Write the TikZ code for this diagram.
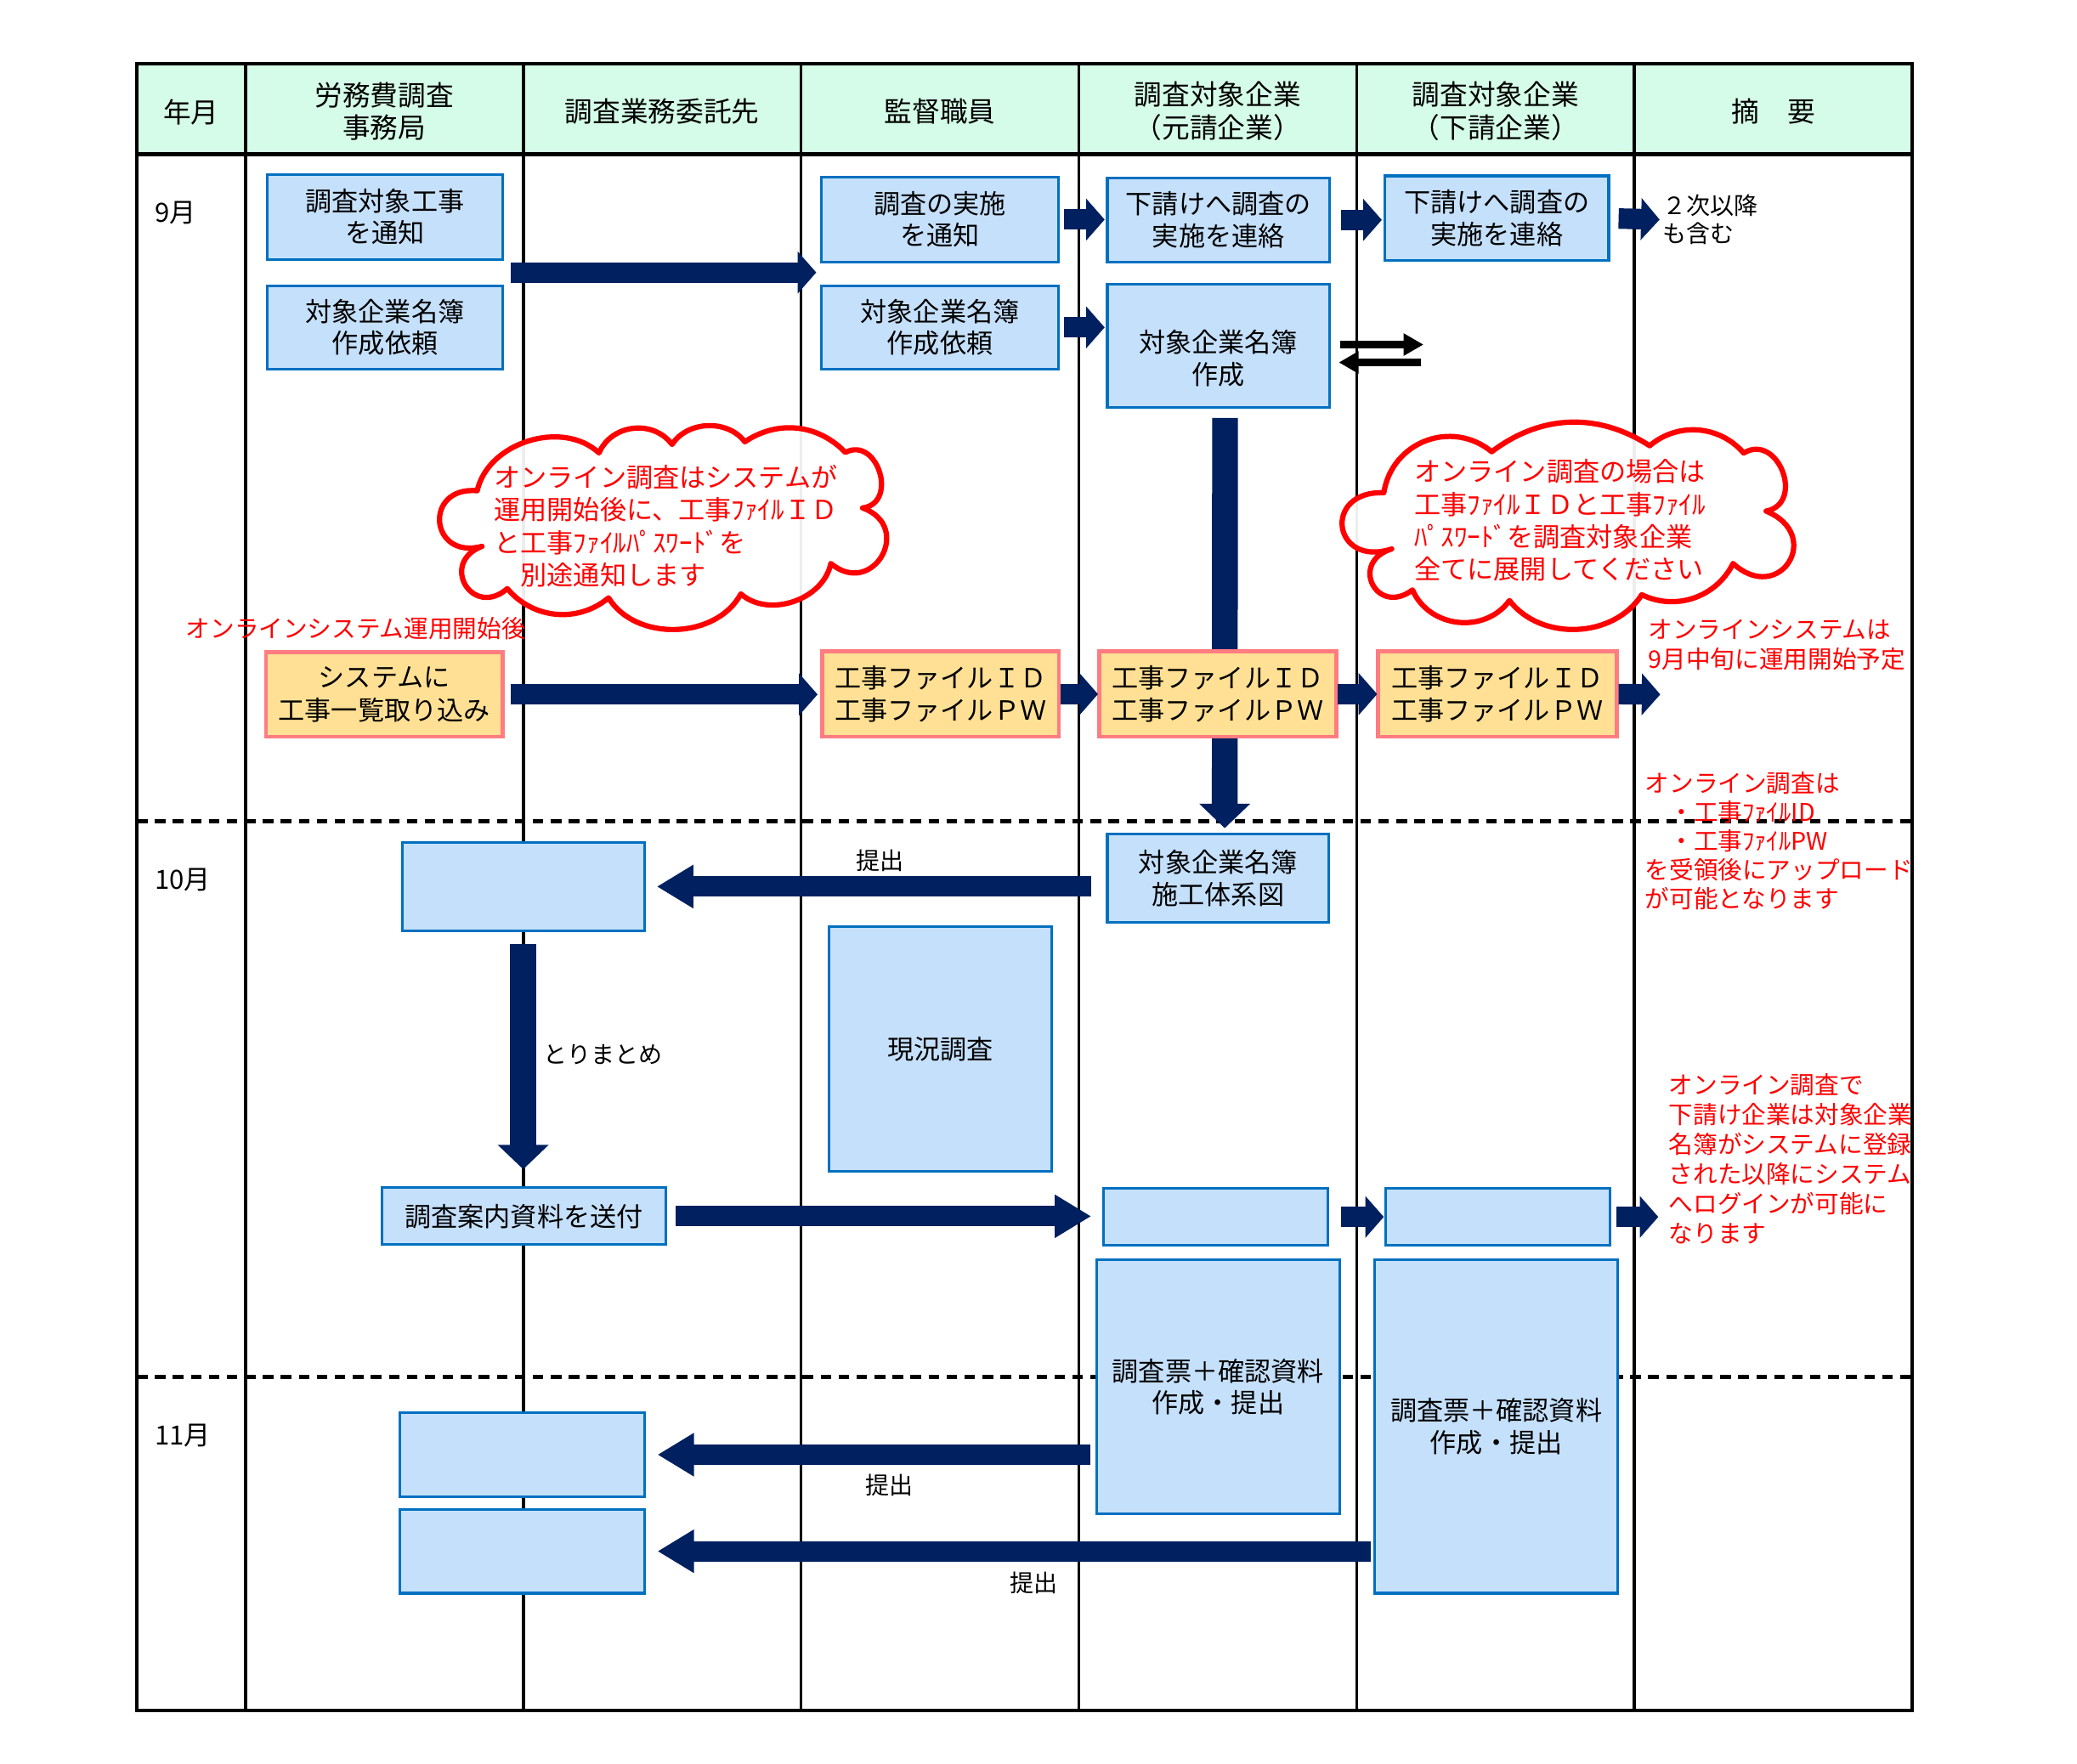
\documentclass[tikz,border=0pt]{standalone}
\usepackage{fontspec}
\setmainfont{Noto Sans CJK JP}
\usetikzlibrary{arrows.meta,calc}
\definecolor{mint}{RGB}{213,252,232}
\definecolor{bfill}{RGB}{197,224,251}
\definecolor{bline}{RGB}{0,112,192}
\definecolor{yfill}{RGB}{255,224,148}
\definecolor{yline}{RGB}{255,124,128}
\definecolor{navy}{RGB}{0,32,96}
\definecolor{nred}{RGB}{255,0,0}
\newcommand\fsz[2]{\fontsize{#1}{#2}\selectfont}
\newcommand\bx[7][]{\node[#1, minimum width={(#5-#3)*0.5pt}, minimum height={(#6-#4)*0.5pt}] (#2) at ({(#3+#5)/2},{(#4+#6)/2}) {#7};}
\begin{document}
\begin{tikzpicture}[x=0.5pt,y=-0.5pt,
  every node/.style={inner sep=0pt, outer sep=0pt},
  bluebox/.style={draw=bline, fill=bfill, line width=1pt, align=center, font=\fsz{10}{12}},
  yelbox/.style={draw=yline, fill=yfill, line width=1.5pt, align=center, font=\fsz{10}{12.3}},
  hdr/.style={align=center, font=\fsz{10.5}{12.25}},
  note/.style={text=nred, align=left, anchor=west, font=\fsz{9.2}{11.25}},
  lbl/.style={font=\fsz{9}{10.8}},
  cltext/.style={text=nred, align=left, anchor=west, font=\fsz{10}{12.3}},
  harr/.style={draw=navy, line width=7.75pt, -{Triangle[length=7pt,width=15.5pt]}},
  larr/.style={draw=navy, line width=7.75pt, -{Triangle[length=13.8pt,width=15.5pt]}},
  varr/.style={draw=navy, line width=9.75pt, -{Triangle[length=9.25pt,width=18.75pt]}},
  karr/.style={draw=black, line width=2.7pt, -{Triangle[length=7.5pt,width=8pt]}},
  colline/.style={line width=1.2pt},
  monthsep/.style={line width=1.6pt, dash pattern=on 4pt off 2.8pt},
  cloudsty/.style={draw=nred, line width=2pt, fill=white, fill opacity=0.93, line join=round},
]
% canvas
\fill[white] (0,0) rectangle (1570,1333.5);
\useasboundingbox (0,0) rectangle (1570,1333.5);
% table
\fill[mint] (103.5,48) rectangle (1445.5,116.7);
\foreach \x in {185.5,395.5,605.5,815.5,1025.5,1235.5} \draw[colline] (\x,48) -- (\x,1293);
\draw[line width=1.6pt] (103.5,116.7) -- (1445.5,116.7);
\draw[monthsep] (103.5,621) -- (1445.5,621);
\draw[monthsep] (103.5,1041) -- (1445.5,1041);
\draw[line width=1.4pt] (103.5,48) rectangle (1445.5,1293);
% headers
\node[hdr] (h1) at (144.5,84.5) {年月};
\node[hdr] (h2) at (290.5,84) {労務費調査\\事務局};
\node[hdr] (h3) at (500.5,84.5) {調査業務委託先};
\node[hdr] (h4) at (710.5,84.5) {監督職員};
\node[hdr] (h5) at (920.5,84) {調査対象企業\\（元請企業）};
\node[hdr] (h6) at (1130.5,84) {調査対象企業\\（下請企業）};
\node[hdr] (h7) at (1340.5,84.5) {摘　要};
% months
\node[anchor=west, font=\fsz{10}{12}] (m9) at (117,161) {9月};
\node[anchor=west, font=\fsz{10}{12}] (m10) at (117,665.5) {10月};
\node[anchor=west, font=\fsz{10}{12}] (m11) at (117,1085) {11月};
% clouds
\path[cloudsty] (360.7,371) to[bend left=60] (452.8,342.4)
  to[bend left=60, looseness=1.1] (508,336) to[bend left=55] (563,334)
  to[bend left=40] (639,342) to[bend left=100, looseness=1.6] (652,384)
  to[bend left=100, looseness=2.2] (628,426) to[bend left=60] (560,449)
  to[bend left=60] (460,452) to[bend left=45] (383.5,445)
  to[bend left=100, looseness=2.4] (364.4,413)
  to[bend left=100, looseness=2.5] (360.7,371) -- cycle;
\path[cloudsty] (1046,372.5) to[bend left=60, looseness=1.15] (1127.6,341.5)
  to[bend left=35] (1247,337) to[bend left=45] (1318,342.5)
  to[bend left=100, looseness=1.65] (1335,386.4)
  to[bend left=100, looseness=2.6] (1310,426) to[bend left=45] (1241,449.6)
  to[bend left=55] (1141,454) to[bend left=60, looseness=1.1] (1067.7,446)
  to[bend left=100, looseness=2.5] (1052,415)
  to[bend left=100, looseness=2.8] (1046,372.5) -- cycle;
\node[cltext] (cl1t) at (373.6,397.7) {オンライン調査はシステムが\\運用開始後に、工事ﾌｧｲﾙＩＤ\\と工事ﾌｧｲﾙﾊﾟｽﾜｰﾄﾞを\\　別途通知します};
\node[cltext] (cl2t) at (1069.2,393.4) {オンライン調査の場合は\\工事ﾌｧｲﾙＩＤと工事ﾌｧｲﾙ\\ﾊﾟｽﾜｰﾄﾞを調査対象企業\\全てに展開してください};
% September boxes
\bx[bluebox]{B1}{202}{132}{380}{196}{調査対象工事\\を通知}
\bx[bluebox]{B2}{202}{216}{380}{279}{対象企業名簿\\作成依頼}
\bx[bluebox]{B3}{621}{134}{800}{198}{調査の実施\\を通知}
\bx[bluebox]{B4}{621}{216}{800}{279}{対象企業名簿\\作成依頼}
\bx[bluebox]{B5}{837}{134.5}{1005}{198}{下請けへ調査の\\実施を連絡}
\bx[bluebox]{B6}{837}{215}{1005}{308}{}
\node[align=center, font=\fsz{10}{12}] (B6t) at ([yshift=-4.75pt]B6.center) {対象企業名簿\\作成};
\bx[bluebox]{B7}{1047}{133}{1216}{197}{下請けへ調査の\\実施を連絡}
% October box feeding from B6
\bx[bluebox]{C2}{837}{630.5}{1004.5}{697.5}{対象企業名簿\\施工体系図}
\draw[varr, shorten <=4pt, shorten >=2.2pt] ([xshift=2.5pt]B6.south) -- ([xshift=2.5pt]C2.north);
% yellow row
\bx[yelbox]{Y1}{201}{493}{380}{557}{システムに\\工事一覧取り込み}
\bx[yelbox]{Y2}{621.5}{492.5}{800.5}{557}{工事ファイルＩＤ\\工事ファイルＰＷ}
\bx[yelbox]{Y3}{831}{492.5}{1010}{557}{工事ファイルＩＤ\\工事ファイルＰＷ}
\bx[yelbox]{Y4}{1041.5}{492.5}{1222}{557}{工事ファイルＩＤ\\工事ファイルＰＷ}
% October / November boxes
\bx[bluebox]{C1}{304}{637}{487}{703.5}{}
\bx[bluebox]{G}{626.5}{700.5}{795}{885.5}{現況調査}
\bx[bluebox]{S}{288.5}{898}{503.5}{941}{調査案内資料を送付}
\bx[bluebox]{D1}{834}{898.5}{1004}{941.5}{}
\bx[bluebox]{D2}{1047.5}{898.5}{1217}{941.5}{}
\bx[bluebox]{E1}{829}{952.5}{1012.5}{1144.5}{調査票＋確認資料\\作成・提出}
\bx[bluebox]{E2}{1039}{952.5}{1223}{1204.5}{調査票＋確認資料\\作成・提出}
\bx[bluebox]{F1}{302.5}{1068}{487}{1131.5}{}
\bx[bluebox]{F2}{302.5}{1141}{487}{1204.5}{}
% free ends
\coordinate (q1) at (1254.5,166);
\coordinate (q2) at (1255,525);
\coordinate (q3) at (1253.5,920);
\coordinate (k1) at (1076,260.5);
\coordinate (k2) at (1074,274);
% September arrows
\coordinate (a1s) at ($(B1.south east)!0.5!(B2.north east)$);
\draw[harr, shorten <=3pt, shorten >=2pt] (a1s) -- (a1s -| B3.west);
\draw[harr, shorten <=2pt, shorten >=1pt] (B3.east) -- (B3.east -| B5.west);
\draw[harr, shorten <=2pt, shorten >=1pt] (B4.east) -- (B4.east -| B6.west);
\draw[harr, shorten <=4.25pt, shorten >=1.25pt] (B5.east) -- (B5.east -| B7.west);
\draw[harr, shorten <=3.75pt] (B7.east) -- (q1);
\draw[karr, shorten <=4pt] (B6.east |- k1) -- (k1);
\draw[karr, shorten >=3.5pt] (k2) -- (B6.east |- k2);
\draw[harr, shorten <=3pt, shorten >=1.75pt] (Y1.east) -- (Y1.east -| Y2.west);
\draw[harr, shorten <=0.5pt, shorten >=0.5pt] (Y2.east) -- (Y2.east -| Y3.west);
\draw[harr, shorten <=0.5pt, shorten >=0.25pt] (Y3.east) -- (Y3.east -| Y4.west);
\draw[harr, shorten <=0.75pt] (Y4.east) -- (q2);
% October arrows
\draw[larr, shorten <=6pt, shorten >=4.75pt] (C2.west |- C1.east) -- (C1.east);
\draw[varr, shorten <=5pt, shorten >=7pt] (C1.south) -- (C1.south |- S.north);
\draw[larr, shorten <=3.75pt, shorten >=4.6pt] (S.east) -- (S.east -| D1.west);
\draw[harr, shorten <=4.7pt, shorten >=0.75pt] (D1.east) -- (D1.east -| D2.west);
\draw[harr, shorten <=2.5pt] (D2.east) -- (q3);
% November arrows
\draw[larr, shorten <=2.5pt, shorten >=5pt] (E1.west |- F1.east) -- (F1.east);
\draw[larr, shorten <=1.5pt, shorten >=5pt] (E2.west |- F2.east) -- (F2.east);
% labels
\node[lbl] (t1) at (665.5,650.5) {提出};
\node[lbl, anchor=west] (t2) at (411,797) {とりまとめ};
\node[lbl] (t3) at (672.5,1123) {提出};
\node[lbl] (t4) at (781.5,1196.5) {提出};
% notes
\node[lbl, anchor=west, align=left] (n1) at (1257,166) {２次以降\\も含む};
\node[note] (n2) at (1246,487.5) {オンラインシステムは\\9月中旬に運用開始予定};
\node[note, font=\fsz{9.2}{10.95}] (n3) at (1243.5,635.8) {オンライン調査は\\　・工事ﾌｧｲﾙID\\　・工事ﾌｧｲﾙPW\\を受領後にアップロード\\が可能となります};
\node[note] (n4) at (1261.5,876.2) {オンライン調査で\\下請け企業は対象企業\\名簿がシステムに登録\\された以降にシステム\\へログインが可能に\\なります};
\node[note] (n5) at (140.5,475.3) {オンラインシステム運用開始後};
\end{tikzpicture}
\end{document}
